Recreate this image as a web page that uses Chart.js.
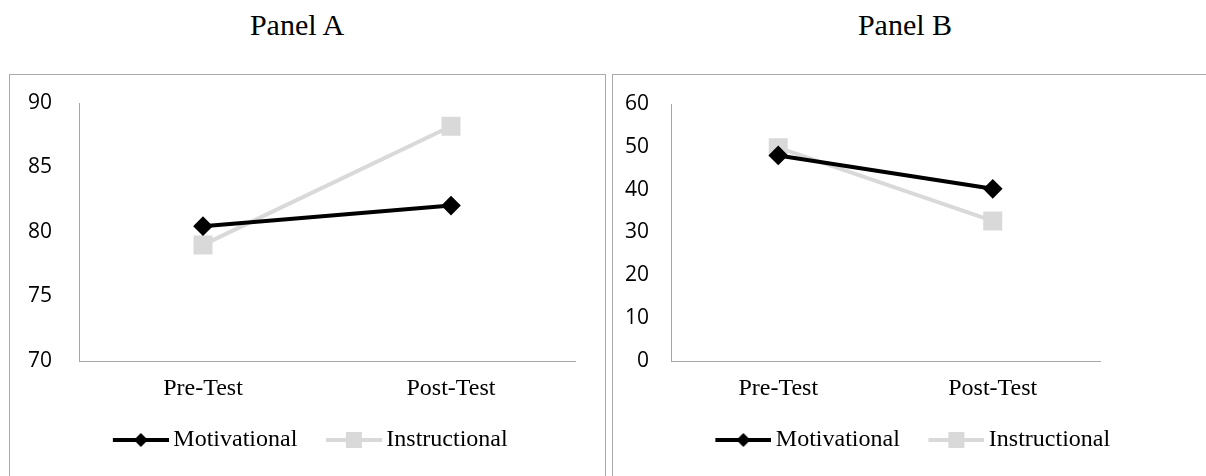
<!DOCTYPE html>
<html>
<head>
<meta charset="utf-8">
<script src="https://cdn.jsdelivr.net/npm/chart.js@4.4.0/dist/chart.umd.min.js"></script>
<style>
  body { margin: 0; background: #fff; width: 1206px; height: 476px; overflow: hidden; position: relative; }
  .title { position: absolute; top: 8px; font-family: "Liberation Serif", "Times New Roman", serif; font-size: 30px; line-height: 34px; color: #000; text-align: center; width: 300px; }
  .panel { position: absolute; top: 74px; height: 420px; border: 1px solid #aaa; box-sizing: border-box; }
  .panel canvas { position: absolute; left: 0; top: 0; }
</style>
</head>
<body>
<div class="title" style="left:147px">Panel A</div>
<div class="title" style="left:755px">Panel B</div>
<div class="panel" style="left:9px; width:597px"><canvas id="chartA" width="595" height="402"></canvas></div>
<div class="panel" style="left:612px; width:600px"><canvas id="chartB" width="594" height="402"></canvas></div>
<script>
const categories = ['Pre-Test', 'Post-Test'];
const seriesNames = ['Motivational', 'Instructional'];

// Panel A
const motivationalA = [80.45, 82.05];
const instructionalA = [79.0, 88.2];
const ticksA = [70, 75, 80, 85, 90];

// Panel B
const motivationalB = [48.0, 40.2];
const instructionalB = [49.8, 32.7];
const ticksB = [0, 10, 20, 30, 40, 50, 60];

const black = '#000000';
const grey = '#d9d9d9';
const axisGrey = '#a6a6a6';
const serif = '"Liberation Serif", "Times New Roman", serif';

// legend sample: line with marker, drawn a bit wider than its box so the text sits close
function legendIcon(color, shape) {
    const c = document.createElement('canvas');
    c.width = 59; c.height = 16;
    const g = c.getContext('2d');
    g.strokeStyle = color;
    g.lineWidth = 4;
    g.beginPath();
    g.moveTo(3, 8); g.lineTo(59, 8);
    g.stroke();
    g.fillStyle = color;
    g.beginPath();
    if (shape === 'diamond') {
        g.moveTo(31, 1); g.lineTo(38, 8); g.lineTo(31, 15); g.lineTo(24, 8);
        g.closePath();
    } else {
        g.rect(23, 0, 16, 16);
    }
    g.fill();
    return c;
}
const iconMot = legendIcon(black, 'diamond');
const iconIns = legendIcon(grey, 'square');

function makeChart(id, mot, ins, ticks, yWidth, tickPad, topPad, rightPad) {
    const min = ticks[0];
    const max = ticks[ticks.length - 1];
    return new Chart(document.getElementById(id), {
        type: 'line',
        data: {
            labels: categories,
            datasets: [{
                label: seriesNames[0],
                data: mot,
                borderColor: black,
                backgroundColor: black,
                borderWidth: 4,
                pointStyle: 'rectRot',
                pointRadius: 7,
                pointHoverRadius: 7
            }, {
                label: seriesNames[1],
                data: ins,
                borderColor: grey,
                backgroundColor: grey,
                borderWidth: 4,
                pointStyle: 'rect',
                pointRadius: 10.6,
                pointHoverRadius: 10.6
            }]
        },
        options: {
            responsive: false,
            animation: false,
            layout: { padding: { top: topPad, right: 0, left: 10, bottom: 15 } },
            plugins: {
                tooltip: { enabled: false },
                legend: {
                    position: 'bottom',
                    labels: {
                        usePointStyle: true,
                        pointStyleWidth: 44,
                        boxHeight: 16,
                        padding: 33,
                        color: '#000',
                        font: { family: serif, size: 24 },
                        generateLabels: function() {
                            return [
                                { text: seriesNames[0], pointStyle: iconMot, datasetIndex: 0, lineWidth: 0, strokeStyle: 'transparent', fillStyle: black },
                                { text: seriesNames[1], pointStyle: iconIns, datasetIndex: 1, lineWidth: 0, strokeStyle: 'transparent', fillStyle: grey }
                            ];
                        }
                    }
                }
            },
            scales: {
                x: {
                    offset: true,
                    grid: { display: false, drawTicks: false },
                    border: { display: true, color: axisGrey, width: 1 },
                    ticks: {
                        color: '#000',
                        padding: 13,
                        font: { family: serif, size: 24 }
                    },
                    afterFit: function(scale) {
                        scale.height = 34;
                        scale.paddingLeft = 0;
                        scale.paddingRight = rightPad;
                    }
                },
                y: {
                    min: min,
                    max: max,
                    grid: { display: false, drawTicks: false },
                    border: { display: true, color: axisGrey, width: 1 },
                    afterBuildTicks: function(scale) {
                        scale.ticks = ticks.map(v => ({ value: v }));
                    },
                    ticks: {
                        color: '#000',
                        padding: tickPad,
                        font: { family: '"Open Sans", sans-serif', size: 21 }
                    },
                    afterFit: function(scale) {
                        scale.width = yWidth;
                        scale.paddingTop = 0;
                        scale.paddingBottom = 0;
                    }
                }
            }
        }
    });
}

makeChart('chartA', motivationalA, instructionalA, ticksA, 59, 27, 28, 30);
makeChart('chartB', motivationalB, instructionalB, ticksB, 48, 22, 29, 107);
</script>
</body>
</html>
